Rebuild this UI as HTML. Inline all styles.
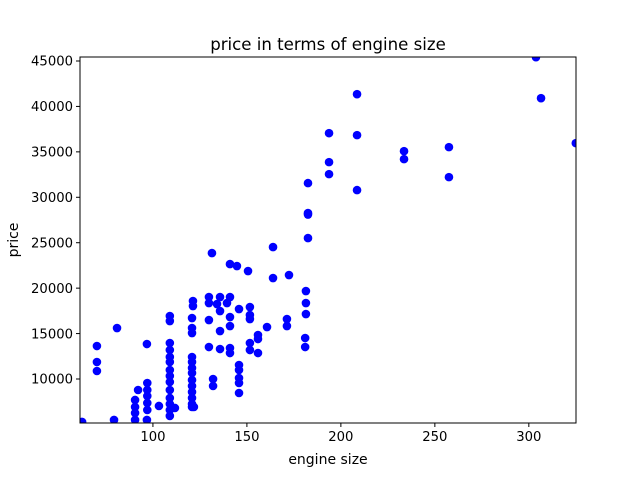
<!DOCTYPE html>
<html><head><meta charset="utf-8"><style>
html,body{margin:0;padding:0;background:#fff;}
svg text{font-family:"DejaVu Sans","Liberation Sans",sans-serif;fill:#000;}
</style></head><body>
<svg id="chart" width="640" height="476" viewBox="0 0 640 476" xmlns="http://www.w3.org/2000/svg">
<rect width="640" height="476" fill="#fff"/>
<g id="marks"></g>
<rect x="80" y="57" width="496" height="366" fill="none" stroke="#000" stroke-width="1"/>
<g id="xticks"></g>
<g id="yticks"></g>
<text x="328" y="50" text-anchor="middle" font-size="16.6">price in terms of engine size</text>
<text x="328" y="464" text-anchor="middle" font-size="14">engine size</text>
<text x="18" y="240" text-anchor="middle" font-size="14" transform="rotate(-90 18 240)">price</text>
</svg>
<script>
const engineSize = [62.3,79.3,70.2,70.2,70.2,80.9,96.8,96.8,92.1,
97,97,97,97,97, 90.5,90.5,90.5,90.5, 103.2,111.7,121.8,
109,109,109,109,109,109,109,109,109,109,109,109,109,109,
120.8,120.8,120.8,120.8,120.8,120.8,120.8,120.8,120.8,120.8,120.8,120.8,120.8,
121.3,121.3, 129.8,129.8,129.8,129.8, 132,132, 135.7,135.7,135.7,135.7, 134.1,139.4,
141,141,141,141,141, 145.8, 145.8,145.8,145.8,145.8,145.8,
151.6,151.6,151.6,151.6,151.6, 155.9,155.9,155.9, 160.7, 171.3,171.3, 172.4,
163.9,163.9, 131.4,141,144.7,150.6,
181.4,181.4,181.4,181,181, 182.5,182.5,182.5,182.5, 193.7,193.7,193.7,
208.6,208.6,208.6, 233.6,233.6, 257.5,257.5, 303.8,306.5,325];
const price = [5270,5490,13630,11870,10880,15610,13850,5490,8790,
9560,8790,8130,7360,6590, 7690,6920,6260,5490, 7030,6810,6920,
16930,16380,13960,13190,12420,11870,10990,10330,9670,8790,7910,7250,6590,5930,
16710,15610,15060,12420,11870,11210,10660,9890,9230,8570,7910,7250,6920,
18580,18030, 19020,18360,16490,13520, 10000,9230, 19020,17480,15280,13300, 18250,18360,
19020,16820,15830,13410,12860, 17700, 11540,10990,10110,9560,8460,
17920,17040,16600,13960,13190, 14840,14400,12860, 15720, 16600,15830, 21440,
24520,21110, 23860,22650,22430,21880,
19680,18360,17150,14510,13520, 31560,28260,28100,25510, 33870,32550,37060,
41350,36840,30790, 35080,34200, 35520,32220, 45420,40910,35960];
const xTickVals = [100,150,200,250,300];
const yTickVals = [10000,15000,20000,25000,30000,35000,40000,45000];
const X0=61.2,X1=325.1,Y0=5157,Y1=45440;
const L=80,R=576,T=57,B=423;
function sx(v){return L+(v-X0)/(X1-X0)*(R-L);}
function sy(v){return B-(v-Y0)/(Y1-Y0)*(B-T);}
const NS="http://www.w3.org/2000/svg";
const marks=document.getElementById('marks');
const clip=document.createElementNS(NS,'clipPath');clip.setAttribute('id','pc');
const cr=document.createElementNS(NS,'rect');cr.setAttribute('x',L);cr.setAttribute('y',T);cr.setAttribute('width',R-L);cr.setAttribute('height',B-T);
clip.appendChild(cr);document.getElementById('chart').appendChild(clip);
marks.setAttribute('clip-path','url(#pc)');
for(let i=0;i<engineSize.length;i++){
 const c=document.createElementNS(NS,'circle');
 c.setAttribute('cx',sx(engineSize[i]));c.setAttribute('cy',sy(price[i]));c.setAttribute('r',4.3);c.setAttribute('fill','#0000ff');
 
 
 marks.appendChild(c);
}
const xt=document.getElementById('xticks');
xTickVals.forEach(v=>{
 const x=sx(v);
 const l=document.createElementNS(NS,'line');l.setAttribute('x1',x);l.setAttribute('x2',x);l.setAttribute('y1',B);l.setAttribute('y2',B+4);l.setAttribute('stroke','#000');
 
 
 xt.appendChild(l);
 const t=document.createElementNS(NS,'text');t.setAttribute('x',x);t.setAttribute('y',B+18);t.setAttribute('text-anchor','middle');t.setAttribute('font-size','13.2');t.textContent=v;
 
 
 xt.appendChild(t);
});
const yt=document.getElementById('yticks');
yTickVals.forEach(v=>{
 const y=sy(v);
 const l=document.createElementNS(NS,'line');l.setAttribute('x1',L-4);l.setAttribute('x2',L);l.setAttribute('y1',y);l.setAttribute('y2',y);l.setAttribute('stroke','#000');
 
 
 yt.appendChild(l);
 const t=document.createElementNS(NS,'text');t.setAttribute('x',L-7);t.setAttribute('y',y+4.7);t.setAttribute('text-anchor','end');t.setAttribute('font-size','13.2');t.textContent=v;
 
 
 yt.appendChild(t);
});
</script>
</body></html>
